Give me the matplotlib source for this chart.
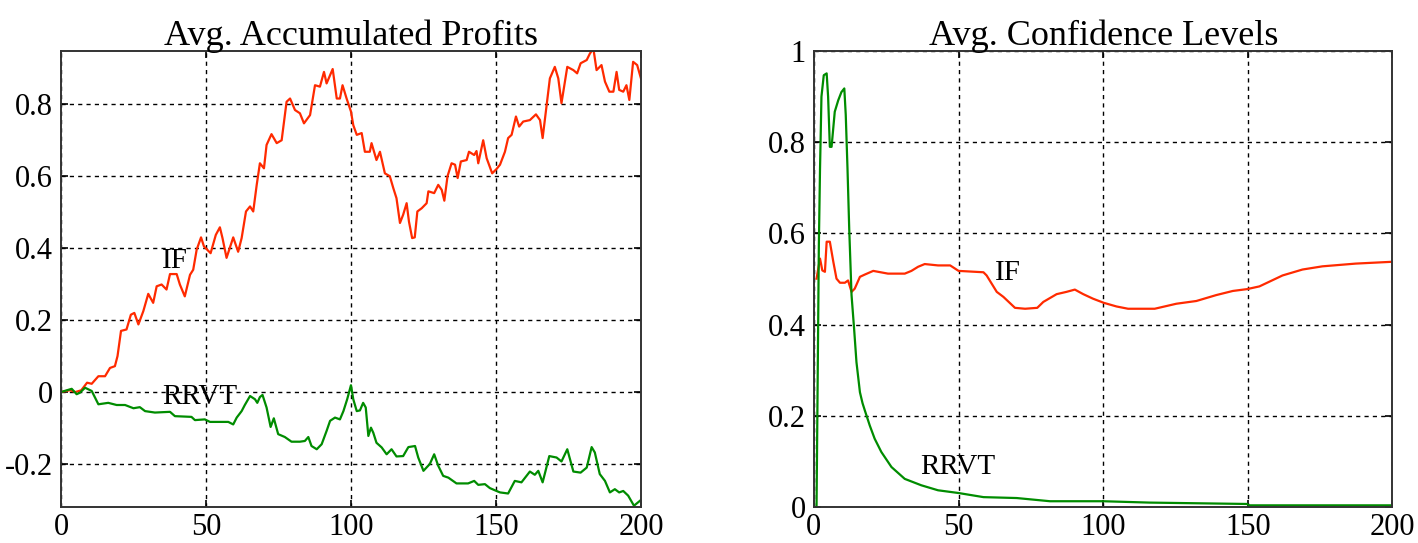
#
# Avg. accumulated profits / avg. confidence levels, IF vs RRVT
#
import numpy as np
import matplotlib.pyplot as plt
from matplotlib.ticker import FormatStrFormatter

plt.rcParams['font.family'] = ['Liberation Serif', 'DejaVu Serif']
plt.rcParams['axes.unicode_minus'] = False

# Data: accumulated profits (left)
profit_if_t = [0, 3, 5, 7, 9, 10.6, 12.9, 15.2, 16.9, 18.6,
               19.5, 20.7, 22.6, 24.1, 25.3, 26.7, 28.4, 30.1, 31.8, 33,
               34.7, 36.4, 37.6, 39.9, 41, 42.7, 44.5, 45.6, 46.8, 48.3,
               49.3, 51.6, 53.4, 54.8, 55.7, 57.1, 59.4, 61.1, 62.3, 63.8,
               65.2, 66.3, 67.5, 68.6, 70, 70.9, 72.6, 74.4, 76.1, 77.8,
               79, 80.7, 82.4, 83.8, 85.9, 87.6, 89.3, 90.7, 91.6, 93.7,
               95.1, 96.2, 97.1, 98.5, 100, 100.8, 102, 103.7, 104.8, 106.5,
               107.1, 108.8, 110, 111.7, 113.4, 114.6, 115.7, 116.9, 118, 119.2,
               120, 121.1, 122, 122.9, 124.4, 126.1, 126.7, 128.7, 130.1, 131.3,
               132.2, 133.3, 134.7, 135.9, 136.8, 137.9, 139.9, 140.7, 142.5, 143.3,
               143.9, 145.6, 146.8, 148.7, 150.2, 151.4, 153.1, 154.2, 155.4, 156.9,
               158, 159.4, 161.7, 163.8, 165.2, 166.1, 167.5, 168.6, 170.3, 171.5,
               172.6, 174.6, 176.7, 178, 179.2, 181.3, 182.4, 183.6, 184.7, 186.4,
               187.6, 189.1, 190.5, 191.6, 192.5, 193.9, 195, 196, 197.3, 198.7, 200]
profit_if = [0, 0.005, 0, 0.005, 0.026, 0.023, 0.044, 0.044, 0.067, 0.072,
             0.10, 0.17, 0.174, 0.215, 0.22, 0.188, 0.225, 0.273, 0.248, 0.294,
             0.299, 0.285, 0.328, 0.328, 0.299, 0.266, 0.326, 0.34, 0.396, 0.43,
             0.405, 0.386, 0.437, 0.458, 0.428, 0.373, 0.43, 0.39, 0.428, 0.502,
             0.516, 0.502, 0.576, 0.636, 0.622, 0.687, 0.717, 0.692, 0.70, 0.807,
             0.816, 0.784, 0.775, 0.747, 0.77, 0.853, 0.849, 0.89, 0.858, 0.898,
             0.816, 0.816, 0.853, 0.816, 0.78, 0.742, 0.715, 0.72, 0.668, 0.668,
             0.692, 0.645, 0.668, 0.608, 0.60, 0.567, 0.539, 0.47, 0.493, 0.525,
             0.474, 0.428, 0.43, 0.502, 0.511, 0.525, 0.558, 0.553, 0.576, 0.562,
             0.532, 0.60, 0.636, 0.632, 0.595, 0.641, 0.645, 0.668, 0.659, 0.67,
             0.636, 0.70, 0.65, 0.608, 0.62, 0.632, 0.668, 0.706, 0.715, 0.766,
             0.738, 0.752, 0.756, 0.772, 0.756, 0.706, 0.798, 0.872, 0.904, 0.872,
             0.803, 0.904, 0.895, 0.886, 0.914, 0.923, 0.941, 0.955, 0.895, 0.909,
             0.863, 0.835, 0.835, 0.89, 0.84, 0.835, 0.853, 0.812, 0.918, 0.909, 0.872]

profit_rrvt_t = [0, 3.7, 5.4, 6.5, 8.3, 10.6, 12.9, 16.3, 19.2, 22.1,
                 25, 27.2, 29, 32.4, 37.6, 39.3, 45, 46.2, 49.6, 51.4,
                 57.7, 59.4, 60.6, 62.3, 63.4, 65.2, 66.9, 67.7, 68.6, 69.5,
                 70.9, 72.3, 73.4, 74.9, 77.2, 79.5, 82.4, 84.1, 85.3, 86.4,
                 88.2, 89.9, 91.6, 92.8, 94.5, 96.2, 97.4, 98.7, 100, 100.8,
                 102, 103.1, 104.2, 105.1, 106, 106.9, 107.7, 108.8, 110.6, 112.3,
                 114, 115.7, 118, 119.8, 122.1, 123.2, 125, 127.2, 128.7, 130.1,
                 131.8, 133.6, 136.4, 140.4, 142.5, 143.9, 146.2, 147.9, 150.2, 151.4,
                 154.2, 156.5, 158.8, 161.7, 163.4, 164.6, 166.1, 168.4, 170.9, 172.6,
                 174.6, 176.7, 179.2, 181.3, 183, 184.1, 185.8, 187.6, 189.3, 191,
                 192.5, 193.9, 195.6, 197.6, 200]
profit_rrvt = [0, 0.009, -0.006, -0.002, 0.012, 0.003, -0.034, -0.03, -0.036, -0.036,
               -0.045, -0.042, -0.053, -0.057, -0.055, -0.067, -0.069, -0.078, -0.076, -0.083,
               -0.083, -0.09, -0.071, -0.053, -0.036, -0.011, -0.02, -0.03, -0.014, -0.008,
               -0.043, -0.097, -0.073, -0.117, -0.125, -0.138, -0.138, -0.136, -0.125, -0.15,
               -0.159, -0.145, -0.108, -0.08, -0.071, -0.076, -0.053, -0.02, 0.019, -0.02,
               -0.053, -0.051, -0.03, -0.043, -0.122, -0.099, -0.113, -0.141, -0.154, -0.173,
               -0.159, -0.179, -0.178, -0.153, -0.15, -0.182, -0.219, -0.2, -0.173, -0.205,
               -0.233, -0.238, -0.254, -0.254, -0.247, -0.258, -0.256, -0.267, -0.275, -0.279,
               -0.282, -0.247, -0.251, -0.221, -0.23, -0.219, -0.251, -0.178, -0.182, -0.193,
               -0.159, -0.221, -0.224, -0.21, -0.153, -0.168, -0.228, -0.247, -0.279, -0.27,
               -0.279, -0.275, -0.288, -0.316, -0.3]

# Data: confidence levels (right)
conf_rrvt_t = [0.9, 1.3, 1.7, 2.1, 2.6, 3.4, 4.4, 4.9, 5.5, 6.1,
               7.2, 8.4, 9.5, 10.5, 11, 11.6, 12.2, 13, 13.9, 14.7,
               15.9, 16.8, 17.6, 19.3, 21, 23.3, 26.8, 31.4, 37.1, 42.9, 50,
               58.6, 70.1, 81.6, 100, 116, 149.7, 150.5, 200]
conf_rrvt = [0, 0.285, 0.574, 0.74, 0.90, 0.947, 0.951, 0.90, 0.79, 0.79,
             0.867, 0.892, 0.91, 0.918, 0.86, 0.743, 0.61, 0.465, 0.39, 0.318,
             0.252, 0.228, 0.212, 0.179, 0.15, 0.121, 0.088, 0.062, 0.048, 0.037, 0.031,
             0.022, 0.02, 0.013, 0.013, 0.010, 0.007, 0.004, 0.004]

conf_if_t = [0.9, 2.1, 2.9, 3.8, 4.4, 5.5, 6.7, 7.8, 9, 10.7,
             11.8, 13, 14.1, 15.9, 17.6, 20.5, 25.6, 31.4, 33.7, 36,
             38.3, 42.9, 47.1, 50, 58.6, 59.7, 63.2, 65.5, 69.5, 73,
             77.2, 79.3, 83.9, 87.3, 90.2, 93.1, 96.5, 100.2, 104.6, 108.6,
             117.8, 125.3, 132.2, 139.1, 144.8, 149.7, 154, 162, 168.9, 175.8,
             187.3, 200]
conf_if = [0.501, 0.545, 0.519, 0.516, 0.582, 0.582, 0.538, 0.501, 0.492, 0.492,
           0.497, 0.472, 0.479, 0.505, 0.51, 0.518, 0.512, 0.512, 0.518, 0.527,
           0.533, 0.53, 0.53, 0.518, 0.515, 0.508, 0.472, 0.461, 0.437, 0.435,
           0.437, 0.45, 0.467, 0.472, 0.477, 0.467, 0.457, 0.448, 0.44, 0.435,
           0.435, 0.446, 0.452, 0.465, 0.474, 0.478, 0.484, 0.508, 0.521, 0.528,
           0.534, 0.538]

red = '#ff2a00'
green = '#008c00'

fig = plt.figure(figsize=(14.18, 5.43), dpi=100)
ax1 = fig.add_axes([0.043, 0.066, 0.409, 0.840])
ax2 = fig.add_axes([0.574, 0.066, 0.408, 0.840])


def style_axes(ax, title):
    ax.set_title(title, fontsize=26, pad=4)
    ax.grid(True, color='black', linestyle=(0, (3, 3)), linewidth=1.0)
    ax.tick_params(direction='in', length=5, width=1.2, labelsize=22,
                   top=True, right=True)
    ax.tick_params(axis='x', pad=4)
    ax.tick_params(axis='y', pad=6)
    for s in ax.spines.values():
        s.set_linewidth(1.4)
        s.set_color('#333333')
    ax.set_xlim(0, 200)
    ax.set_xticks([0, 50, 100, 150, 200])
    ax.yaxis.set_major_formatter(FormatStrFormatter('%g'))


ax1.plot(profit_if_t, profit_if, color=red, lw=1.6)
ax1.plot(profit_rrvt_t, profit_rrvt, color=green, lw=1.6)
ax1.set_ylim(-0.32, 0.948)
ax1.set_yticks([-0.2, 0, 0.2, 0.4, 0.6, 0.8])
style_axes(ax1, 'Avg. Accumulated Profits')
ax1.text(34.8, 0.345, 'IF', fontsize=21)
ax1.text(34.8, -0.034, 'RRVT', fontsize=21)

ax2.plot(conf_if_t, conf_if, color=red, lw=1.6)
ax2.plot(conf_rrvt_t, conf_rrvt, color=green, lw=1.6)
ax2.set_ylim(0, 1)
ax2.set_yticks([0, 0.2, 0.4, 0.6, 0.8, 1])
style_axes(ax2, 'Avg. Confidence Levels')
ax2.text(62.7, 0.499, 'IF', fontsize=21)
ax2.text(36.6, 0.073, 'RRVT', fontsize=21)

fig.savefig('out.png', dpi=100)
